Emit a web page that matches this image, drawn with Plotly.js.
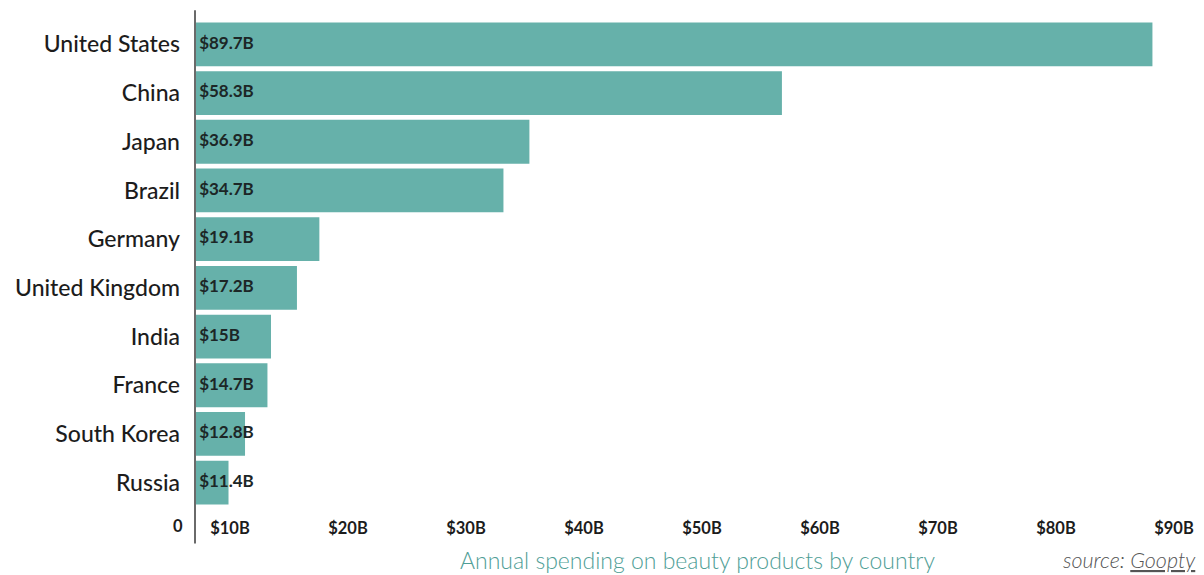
<!DOCTYPE html>
<html>
<head>
<meta charset="utf-8">
<script src="https://cdn.plot.ly/plotly-3.0.1.min.js"></script>
<style>html,body{margin:0;padding:0;background:#fff;}#chart{width:1204px;height:575px;}</style>
</head>
<body>
<div id="chart"></div>
<script>
const countries = ["United States","China","Japan","Brazil","Germany","United Kingdom","India","France","South Korea","Russia"];
const spending = [89.7, 58.3, 36.9, 34.7, 19.1, 17.2, 15, 14.7, 12.8, 11.4];
const tickValues = [10, 20, 30, 40, 50, 60, 70, 80, 90];
const tickLabels = ["$10B","$20B","$30B","$40B","$50B","$60B","$70B","$80B","$90B"];
const valueLabels = spending.map(v => "$" + v + "B");
const chartTitle = "Annual spending on beauty products by country";
const sourceText = "source: <u>Goopty</u>";

const xRange = [8.56, 94.07];
const FONT = "Lato, 'Open Sans', sans-serif";

const bars = {
  type: "bar",
  orientation: "h",
  y: countries,
  x: spending,
  marker: {color: "#66b1aa", line: {width: 0}},
  hoverinfo: "x+y",
  showlegend: false
};
const labels = {
  type: "scatter",
  mode: "text",
  y: countries,
  x: countries.map(() => xRange[0] + 0.35),
  text: valueLabels,
  textposition: "middle right",
  textfont: {family: FONT, size: 17, color: "#1c2626", weight: 700},
  cliponaxis: false,
  hoverinfo: "skip",
  showlegend: false
};

const layout = {
  width: 1204,
  height: 575,
  margin: {l: 195, r: 0, t: 20, b: 68},
  paper_bgcolor: "#ffffff",
  plot_bgcolor: "#ffffff",
  bargap: 0.1,
  showlegend: false,
  xaxis: {
    range: xRange,
    tickvals: tickValues,
    ticktext: tickLabels,
    showgrid: false,
    zeroline: false,
    showline: false,
    ticks: "",
    ticklabelshift: 18,
    ticklabelstandoff: 9,
    tickfont: {family: FONT, size: 16.5, color: "#1c1c1c", weight: 700},
    fixedrange: true
  },
  yaxis: {
    categoryorder: "array",
    categoryarray: countries.slice().reverse(),
    showgrid: false,
    zeroline: false,
    showline: false,
    ticks: "",
    ticklabelstandoff: 14,
    tickfont: {family: FONT, size: 23, color: "#1c1c1c", weight: 500},
    fixedrange: true
  },
  shapes: [{
    type: "line", xref: "paper", yref: "paper",
    x0: 0, x1: 0, y0: -0.075, y1: 1.02,
    line: {color: "#6a6a6a", width: 2}
  }],
  annotations: [
    {text: "0", xref: "paper", yref: "paper", x: 0, y: -0.038, xanchor: "right", yanchor: "middle", xshift: -10,
     showarrow: false, font: {family: FONT, size: 16.5, color: "#1c1c1c", weight: 700}},
    {text: chartTitle, xref: "paper", yref: "paper", x: 0.498, y: -0.108, xanchor: "center", yanchor: "middle",
     showarrow: false, font: {family: FONT, size: 23, color: "#4f9e96", weight: 300}},
    {text: sourceText, xref: "paper", yref: "paper", x: 0.994, y: -0.108, xanchor: "right", yanchor: "middle",
     showarrow: false, font: {family: FONT, size: 21.5, color: "#555555", style: "italic", weight: 300}}
  ]
};

Plotly.newPlot("chart", [bars, labels], layout, {displayModeBar: false, responsive: false});
</script>
</body>
</html>
